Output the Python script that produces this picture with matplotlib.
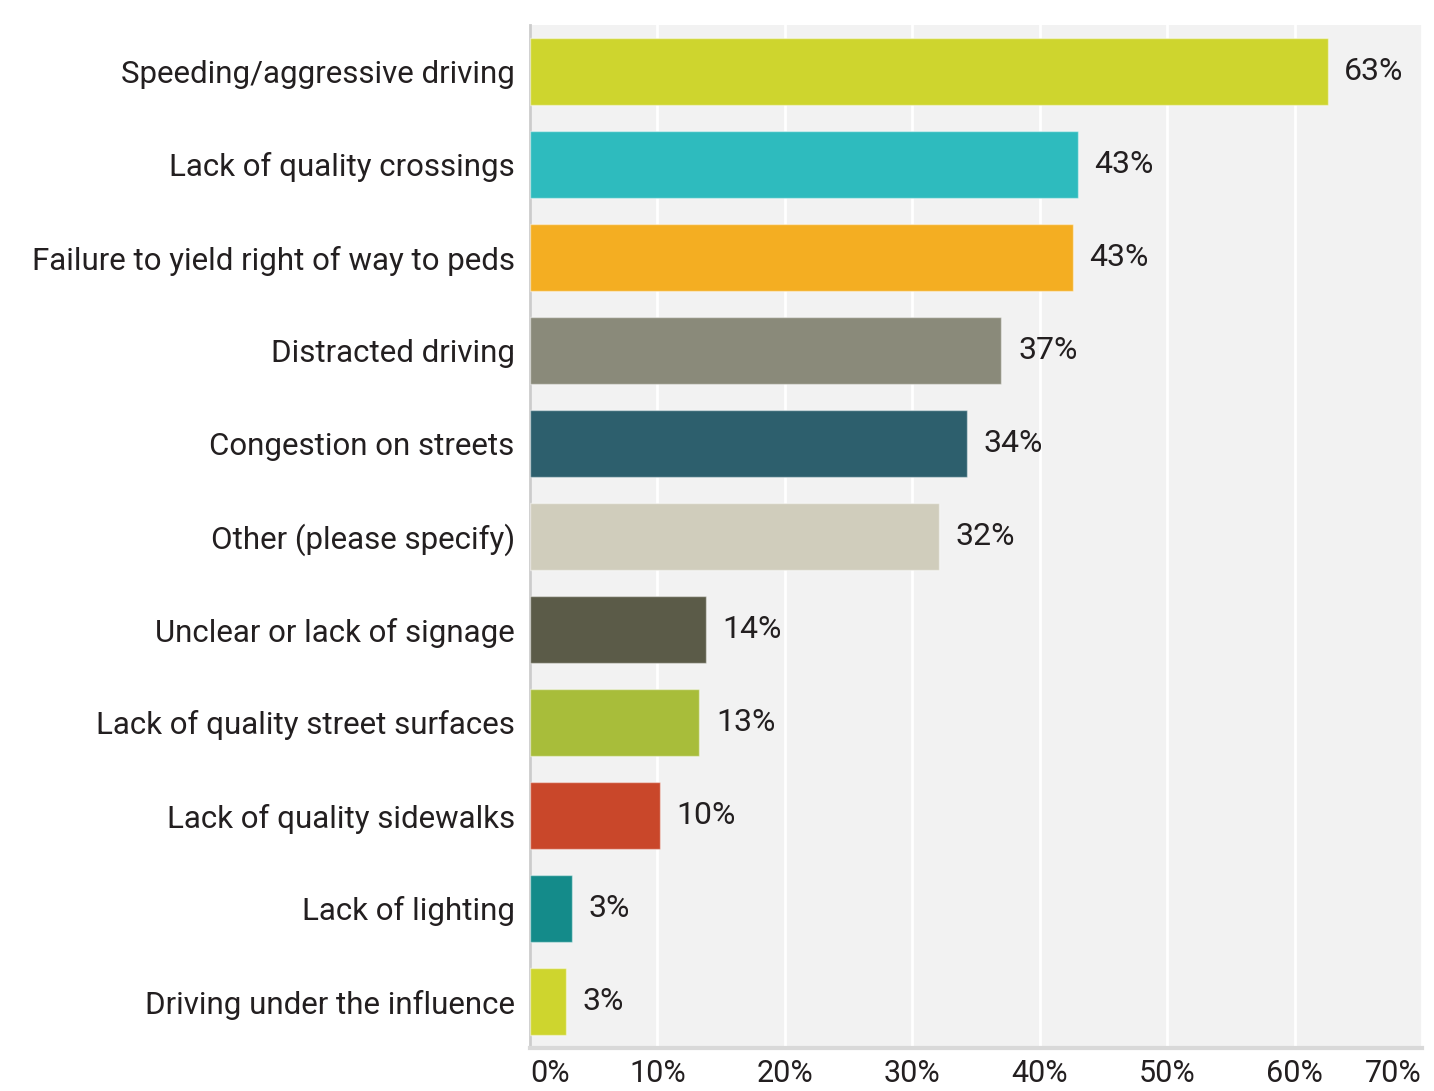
import matplotlib
matplotlib.use("Agg")
import matplotlib.pyplot as plt
from matplotlib.ticker import FixedLocator

categories = [
    "Speeding/aggressive driving",
    "Lack of quality crossings",
    "Failure to yield right of way to peds",
    "Distracted driving",
    "Congestion on streets",
    "Other (please specify)",
    "Unclear or lack of signage",
    "Lack of quality street surfaces",
    "Lack of quality sidewalks",
    "Lack of lighting",
    "Driving under the influence",
]
values = [62.6, 43.0, 42.6, 37.0, 34.3, 32.1, 13.8, 13.3, 10.2, 3.3, 2.8]
value_labels = ["63%", "43%", "43%", "37%", "34%", "32%", "14%", "13%", "10%", "3%", "3%"]
colors = ["#CED52E", "#2EBBBE", "#F4AE22", "#8A8A7A", "#2D5F6D", "#D0CDBC",
          "#5B5B48", "#A8BD3A", "#C9472A", "#148B8A", "#CED52E"]
x_ticks = [0, 10, 20, 30, 40, 50, 60, 70]
x_tick_labels = ["0%", "10%", "20%", "30%", "40%", "50%", "60%", "70%"]

plt.rcParams['font.family'] = ['Roboto', 'DejaVu Sans']
TXT = "#231F20"

fig = plt.figure(figsize=(14.34, 10.91), dpi=100)
ax = fig.add_axes([530/1434, 1 - 1048/1091, (1422-530)/1434, (1048-25)/1091])
ax.set_facecolor("#F2F2F2")

ypos = list(range(len(categories)))
ax.barh(ypos, values, height=0.71, color=colors,
        edgecolor=(1, 1, 1, 0.45), linewidth=1.0, zorder=3)

for y, v, lab in zip(ypos, values, value_labels):
    ax.annotate(lab, xy=(v, y), xytext=(12, 0), textcoords="offset points",
                ha="left", va="center", fontsize=23, color=TXT, zorder=4)

ax.set_xlim(0, 70)
ax.set_ylim(len(categories) - 0.5, -0.5)
ax.xaxis.set_major_locator(FixedLocator(x_ticks))
ax.set_xticklabels(x_tick_labels, fontsize=22, color=TXT)
tl = ax.get_xticklabels()
tl[0].set_ha("left")
tl[-1].set_ha("right")
ax.set_yticks(ypos)
ax.set_yticklabels(categories, fontsize=22.5, color=TXT)
ax.tick_params(axis="x", length=0, pad=8)
ax.tick_params(axis="y", length=0, pad=11)

ax.grid(axis="x", color="white", linewidth=2, zorder=1)
ax.set_axisbelow(True)
for s in ["top", "right"]:
    ax.spines[s].set_visible(False)
ax.spines["left"].set_color("#CCCCCC")
ax.spines["left"].set_linewidth(2)
ax.spines["bottom"].set_color("#D9D9D9")
ax.spines["bottom"].set_linewidth(3)

fig.savefig("out.png", dpi=100, facecolor="white")
